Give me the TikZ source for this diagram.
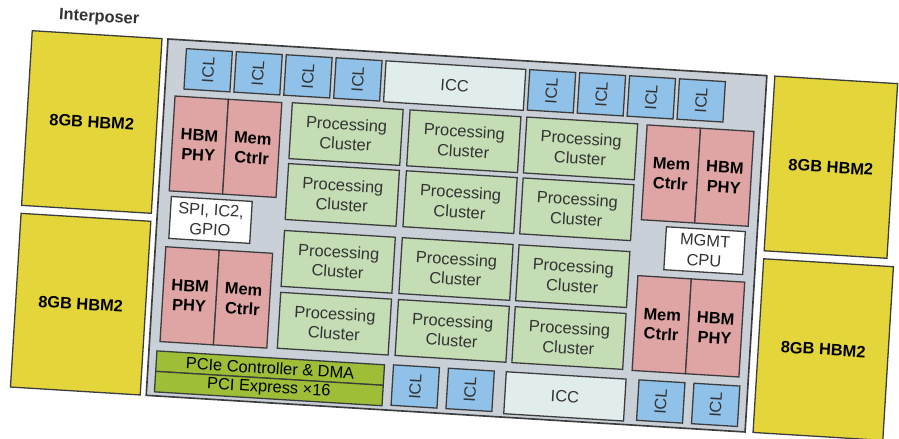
\documentclass[tikz,border=0pt]{standalone}
\usepackage{fontspec}
\setmainfont{Liberation Sans}
\usepackage{graphicx}
\usetikzlibrary{positioning}
\definecolor{hbmYellow}{HTML}{E4D63A}
\definecolor{dieGray}{HTML}{C9D0D8}
\definecolor{iclBlue}{HTML}{90C1E8}
\definecolor{ctrlPink}{HTML}{DFA4A4}
\definecolor{clusterGreen}{HTML}{C4DDB4}
\definecolor{pcieGreen}{HTML}{9DBE36}
\definecolor{iccFill}{HTML}{E1ECEC}
\definecolor{edgeGray}{HTML}{3C3C3C}
\definecolor{textGray}{HTML}{333333}
\newcommand{\lblsize}{\fontsize{14}{16.8}\selectfont}
\tikzset{
  blk/.style={draw=edgeGray, line width=1.1pt, inner sep=0pt, outer sep=0pt,
              anchor=north west, align=center, text=textGray, font=\lblsize},
  sz/.style 2 args={minimum width=#1*0.03cm, minimum height=#2*0.03cm},
  hbm/.style={blk, fill=hbmYellow, font=\lblsize\bfseries, text=black},
  icl/.style={blk, sz={46}{40.5}, fill=iclBlue},
  icc/.style={blk, fill=iccFill},
  ctrl/.style={blk, sz={53.5}{95}, fill=ctrlPink, font=\lblsize\bfseries, text=black},
  cluster/.style={blk, sz={111}{56}, fill=clusterGreen},
  misc/.style={blk, fill=white},
  pcie/.style={blk, sz={228}{20.5}, fill=pcieGreen, text=black},
}

\begin{document}
\begin{tikzpicture}[x=0.03cm, y=-0.03cm]
  \useasboundingbox (0,0) rectangle (899,438);
  \fill[white] (0,0) rectangle (899,438);

  \begin{scope}[shift={(168,39)}, rotate=-3.5, transform shape]
    % --- interposer with the four HBM2 stacks ---
    \node[font=\lblsize\bfseries, text=textGray] (interposer) at (-70,-17) {Interposer};
    \node[hbm, sz={130}{175}] (hbmLT) at (-136,0)   {8GB HBM2};
    \node[hbm, sz={130}{174}] (hbmLB) at (-136,183) {8GB HBM2};
    \node[hbm, sz={123}{175}] (hbmRT) at (608,0)    {8GB HBM2};
    \node[hbm, sz={130}{174}] (hbmRB) at (608,183)  {8GB HBM2};

    % --- the die ---
    \node[blk, sz={600}{357}, fill=dieGray, line width=1.4pt] (die) at (0,0) {};

    % inter-chip links along the top and bottom edges
    \foreach \u [count=\i] in {19,69,119,169,363,413,463,513}
      \node[icl] (iclT\i) at (\u,8.5) {\rotatebox{90}{ICL}};
    \foreach \u [count=\i] in {245,300,491,546}
      \node[icl] (iclB\i) at (\u,311.5) {\rotatebox{90}{ICL}};
    \node[icc, sz={140}{41}] (iccT) at (219,8.5)   {ICC};
    \node[icc, sz={120}{42}] (iccB) at (358,311.5) {ICC};

    % memory interfaces
    \node[ctrl] (phyLT)  at (10.5,56.5) {HBM\\PHY};
    \node[ctrl] (ctrlLT) at (64,56.5)   {Mem\\Ctrlr};
    \node[ctrl] (phyLB)  at (10.5,207.5) {HBM\\PHY};
    \node[ctrl] (ctrlLB) at (64,207.5)   {Mem\\Ctrlr};
    \node[ctrl] (ctrlRT) at (483.5,56.5) {Mem\\Ctrlr};
    \node[ctrl] (phyRT)  at (537,56.5)   {HBM\\PHY};
    \node[ctrl] (ctrlRB) at (483.5,207.5) {Mem\\Ctrlr};
    \node[ctrl] (phyRB)  at (537,207.5)   {HBM\\PHY};

    \node[misc, sz={81}{42}] (spi)  at (13,157)  {SPI, IC2,\\GPIO};
    \node[misc, sz={79}{43}] (mgmt) at (509,157) {MGMT\\CPU};

    % the 3 x 4 grid of processing clusters
    \foreach \u [count=\c] in {128,246,363}
      \foreach \v [count=\r] in {56,117,184,246}
        \node[cluster] (pc\r\c) at (\u,\v) {Processing\\Cluster};

    % host interface
    \node[pcie] (pcieCtrl) at (8,312)   {PCIe Controller \& DMA};
    \node[pcie] (pcieLink) at (8,332.5) {PCI Express ×16};
  \end{scope}
\end{tikzpicture}
\end{document}
